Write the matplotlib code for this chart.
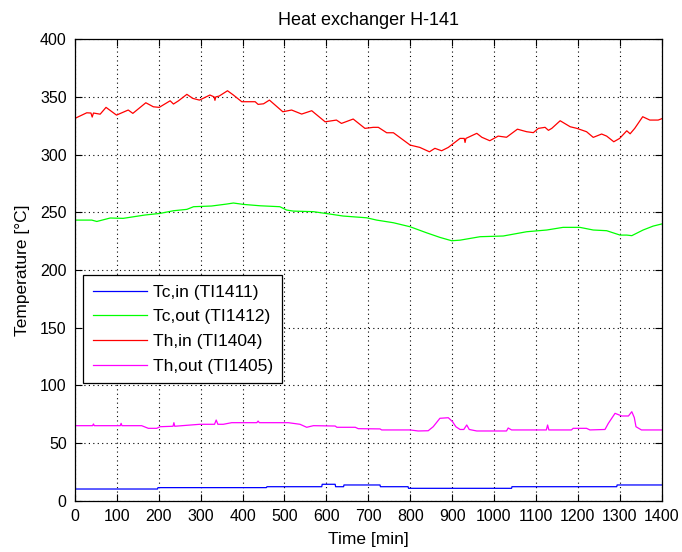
import numpy as np
import matplotlib.pyplot as plt

plt.rcParams['font.family'] = ['Liberation Sans', 'DejaVu Sans']

# Tc,in (TI1411)
t_tcin = [0, 197, 198, 457, 458, 589, 590, 621, 622, 641, 642, 728, 729, 795, 796, 1042, 1043, 1293, 1294, 1400]
tcin = [10.1, 10.1, 11.3, 11.3, 12.1, 12.1, 14.2, 14.2, 12.1, 12.1, 13.6, 13.6, 12.1, 12.1, 10.7, 10.7, 12.1, 12.1, 13.6, 13.6]

# Tc,out (TI1412)
t_tcout = [0, 40, 52, 84, 115, 131, 167, 203, 235, 267, 283, 326, 362, 378, 402, 442, 489, 505, 521,
           569, 609, 640, 696, 720, 760, 800, 839, 871, 899, 919, 967, 1022, 1078, 1126, 1165, 1205,
           1237, 1269, 1301, 1317, 1329, 1356, 1380, 1400]
tcout = [243.2, 243.2, 242.0, 245.0, 244.7, 245.6, 247.6, 249.0, 251.3, 252.5, 254.8, 255.4, 257.1, 258.0,
         256.8, 255.6, 254.8, 251.9, 251.0, 250.5, 248.4, 246.7, 245.2, 243.2, 240.9, 237.4, 232.2, 228.2,
         225.3, 225.8, 228.8, 229.4, 233.1, 234.6, 236.9, 236.9, 234.6, 234.0, 230.2, 230.2, 229.7, 234.6,
         238.0, 239.8]

# Th,in (TI1404)
t_thin = [0, 28, 38, 41, 44, 60, 74, 99, 127, 138, 169, 187, 201, 227, 235, 247, 267, 281, 297, 322,
          332, 334, 336, 344, 364, 378, 398, 430, 437, 450, 464, 496, 517, 541, 565, 597, 624, 636, 664,
          692, 712, 724, 744, 760, 800, 823, 846, 859, 875, 891, 919, 929, 931, 933, 959, 971, 990, 1010,
          1030, 1056, 1078, 1094, 1106, 1122, 1130, 1138, 1158, 1182, 1198, 1221, 1237, 1257, 1269, 1286,
          1300, 1317, 1325, 1336, 1355, 1372, 1392, 1400]
thin = [331.4, 336.2, 336.0, 332.5, 336.0, 335.0, 340.9, 334.2, 338.6, 335.7, 344.9, 341.4, 340.9, 346.6,
        343.8, 346.6, 352.2, 348.7, 347.2, 351.6, 350.0, 347.0, 350.0, 350.7, 355.3, 351.6, 345.8, 345.8,
        343.5, 344.0, 347.2, 337.1, 338.6, 335.1, 338.0, 328.4, 329.9, 327.0, 330.8, 322.7, 323.6, 323.6,
        318.9, 318.9, 308.2, 306.2, 302.4, 305.4, 303.3, 306.2, 314.0, 314.0, 310.5, 314.0, 318.4, 315.0,
        312.0, 316.0, 315.0, 322.0, 319.8, 319.0, 322.7, 323.6, 321.0, 322.7, 329.3, 324.1, 322.7, 319.8,
        314.9, 317.8, 316.0, 311.1, 314.0, 320.6, 318.0, 322.7, 332.8, 329.9, 329.9, 331.0]

# Th,out (TI1405)
t_thout = [0, 42, 44, 46, 108, 110, 112, 159, 175, 195, 203, 234, 236, 238, 298, 333, 337, 341, 354,
           374, 434, 437, 440, 509, 537, 553, 569, 621, 625, 669, 676, 728, 732, 800, 819, 843, 855, 871,
           891, 901, 909, 919, 928, 935, 941, 959, 1030, 1034, 1042, 1082, 1125, 1128, 1131, 1185, 1189,
           1221, 1229, 1265, 1273, 1289, 1305, 1321, 1329, 1335, 1339, 1352, 1400]
thout = [65.0, 65.0, 66.5, 65.0, 65.0, 67.0, 65.0, 65.0, 62.7, 62.7, 64.1, 64.5, 67.6, 64.5, 66.2, 66.2,
         69.9, 66.2, 66.2, 67.6, 67.6, 69.0, 67.6, 67.6, 66.2, 63.6, 65.0, 64.7, 63.6, 63.6, 62.4, 62.2,
         61.3, 61.3, 60.4, 60.6, 64.1, 71.4, 71.9, 68.5, 64.1, 61.7, 61.7, 65.6, 61.7, 60.4, 60.4, 63.0,
         61.3, 61.3, 61.3, 65.6, 61.3, 61.3, 62.7, 62.7, 61.3, 61.7, 67.0, 75.7, 73.4, 73.4, 77.1, 72.0,
         64.1, 61.3, 61.3]

fig = plt.figure(figsize=(6.82, 5.52), dpi=100)
ax = fig.add_axes([0.110, 0.093, 0.860, 0.836])

lw = 0.9
ax.plot(t_tcin, tcin, color=(0, 0, 1), lw=lw, label='Tc,in (TI1411)')
ax.plot(t_tcout, tcout, color=(0, 1, 0), lw=lw, label='Tc,out (TI1412)')
ax.plot(t_thin, thin, color=(1, 0, 0), lw=lw, label='Th,in (TI1404)')
ax.plot(t_thout, thout, color=(1, 0, 1), lw=lw, label='Th,out (TI1405)')

ax.set_xlim(0, 1400)
ax.set_ylim(0, 400)
ax.set_xticks(np.arange(0, 1401, 100))
ax.set_yticks(np.arange(0, 401, 50))
ax.tick_params(direction='in', length=5, top=True, right=True, labelsize=11.5, pad=6)
ax.grid(True, color='black', linestyle=(0, (1, 3)), linewidth=0.8)
for s in ax.spines.values():
    s.set_linewidth(0.9)

ax.set_title('Heat exchanger H-141', fontsize=13, pad=10)
ax.set_xlabel('Time [min]', fontsize=12.5, labelpad=6)
ax.set_ylabel('Temperature [\u00b0C]', fontsize=12.5, labelpad=7)

leg = ax.legend(loc='upper left', bbox_to_anchor=(0.014, 0.489), fontsize=12.5, handlelength=3.1,
                handletextpad=0.35, fancybox=False, framealpha=1, edgecolor='black', borderpad=0.55,
                labelspacing=0.55, borderaxespad=0)
leg.get_frame().set_linewidth(0.9)

fig.savefig('out.png', dpi=100, facecolor='white')
